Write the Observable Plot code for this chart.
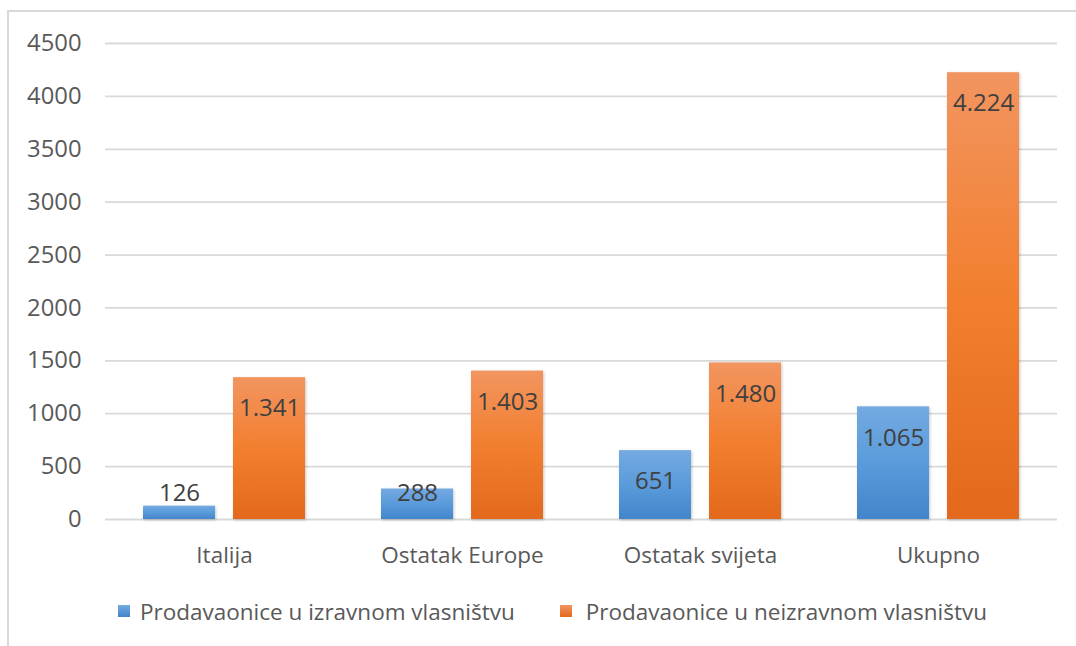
<!DOCTYPE html>
<html>
<head>
<meta charset="utf-8">
<script src="https://cdn.jsdelivr.net/npm/d3@7"></script>
<script src="https://cdn.jsdelivr.net/npm/@observablehq/plot@0.6"></script>
<style>
  html, body { margin: 0; padding: 0; background: #fff; overflow: hidden; }
  #wrap { position: relative; width: 1076px; height: 646px; overflow: hidden; font-family: "Open Sans", sans-serif; }
  #frame { position: absolute; left: 7px; top: 10px; width: 1300px; height: 800px;
           border-left: 2px solid #d9d9d9; border-top: 2px solid #d9d9d9; box-sizing: border-box; }
  #chart { position: absolute; left: 0; top: 0; }
  #legend { position: absolute; left: 118px; top: 596px; height: 30px; display: flex; align-items: center;
            font-size: 22.5px; color: #595959; white-space: nowrap; }
  .sw { width: 12px; height: 12px; display: inline-block; margin-right: 10px; }
  .item { display: flex; align-items: center; }
  .bars { filter: drop-shadow(1.5px 1px 1.5px rgba(0,0,0,0.22)); }
</style>
</head>
<body>
<div id="wrap">
  <div id="frame"></div>
  <div id="chart"></div>
  <div id="legend"></div>
</div>
<script>
const categories = ["Italija", "Ostatak Europe", "Ostatak svijeta", "Ukupno"];
const seriesNames = ["Prodavaonice u izravnom vlasništvu", "Prodavaonice u neizravnom vlasništvu"];
const directValues = [126, 288, 651, 1065];
const indirectValues = [1341, 1403, 1480, 4224];
const yTicks = [0, 500, 1000, 1500, 2000, 2500, 3000, 3500, 4000, 4500];

const data = [];
categories.forEach((c, i) => {
  data.push({category: c, series: seriesNames[0], value: directValues[i]});
  data.push({category: c, series: seriesNames[1], value: indirectValues[i]});
});

const fmt = d3.formatLocale({decimal: ",", thousands: ".", grouping: [3], currency: ["", ""]}).format(",d");

const chart = Plot.plot({
  width: 1076,
  height: 585,
  marginLeft: 104,
  marginRight: 19,
  marginTop: 43,
  marginBottom: 66,
  style: {fontFamily: "Open Sans, sans-serif", fontSize: "22.5px", color: "#595959", background: "transparent", overflow: "visible"},
  fx: {domain: categories, padding: 0, axis: "bottom", label: null, tickSize: 0, tickPadding: 28},
  x: {domain: seriesNames, axis: null, paddingInner: 0.198, paddingOuter: 0.408},
  y: {domain: [0, 4500], axis: null},
  marks: [
    Plot.ruleY(yTicks, {stroke: "#d9d9d9", strokeWidth: 1.8}),
    Plot.barY(data, {filter: d => d.series === seriesNames[0], fx: "category", x: "series", y: "value", fill: "url(#gradBlue)", className: "bars"}),
    Plot.barY(data, {filter: d => d.series === seriesNames[1], fx: "category", x: "series", y: "value", fill: "url(#gradOrange)", className: "bars"}),
    Plot.text(data, {fx: "category", x: "series", y: d => Math.max(d.value, 539), dy: 31, text: d => fmt(d.value),
      fill: "#404040", fontSize: 24, textAnchor: "middle", lineAnchor: "middle"})
  ]
});

const yAxis = Plot.plot({
  width: 1076,
  height: 585,
  marginLeft: 104,
  marginRight: 19,
  marginTop: 43,
  marginBottom: 66,
  style: {fontFamily: "Open Sans, sans-serif", fontSize: "23.8px", color: "#595959", background: "transparent"},
  x: {axis: null},
  y: {domain: [0, 4500], ticks: yTicks, tickSize: 0, tickPadding: 23, label: null, tickFormat: d => String(d)},
  marks: []
});

const svg = d3.select(chart.tagName === "svg" ? chart : chart.querySelector("svg"));
const defs = svg.insert("defs", ":first-child");
const gb = defs.append("linearGradient").attr("id", "gradBlue").attr("x1", 0).attr("y1", 0).attr("x2", 0).attr("y2", 1);
gb.append("stop").attr("offset", "0%").attr("stop-color", "#74aae1");
gb.append("stop").attr("offset", "50%").attr("stop-color", "#5a9bdb");
gb.append("stop").attr("offset", "100%").attr("stop-color", "#4285ca");
const go = defs.append("linearGradient").attr("id", "gradOrange").attr("x1", 0).attr("y1", 0).attr("x2", 0).attr("y2", 1);
go.append("stop").attr("offset", "0%").attr("stop-color", "#f29560");
go.append("stop").attr("offset", "50%").attr("stop-color", "#f27f2f");
go.append("stop").attr("offset", "100%").attr("stop-color", "#e3691c");

document.getElementById("chart").appendChild(chart);
yAxis.style.position = "absolute";
yAxis.style.left = "0px";
yAxis.style.top = "0px";
document.getElementById("chart").appendChild(yAxis);

const legend = document.getElementById("legend");
const swatchBg = ["linear-gradient(#74aae1, #4285ca)", "linear-gradient(#f29560, #e3691c)"];
seriesNames.forEach((s, i) => {
  const item = document.createElement("div");
  item.className = "item";
  if (i > 0) item.style.marginLeft = "45px";
  const sw = document.createElement("span");
  sw.className = "sw";
  sw.style.background = swatchBg[i];
  if (i > 0) sw.style.marginRight = "14px";
  const t = document.createElement("span");
  t.textContent = s;
  item.appendChild(sw);
  item.appendChild(t);
  legend.appendChild(item);
});
</script>
</body>
</html>
